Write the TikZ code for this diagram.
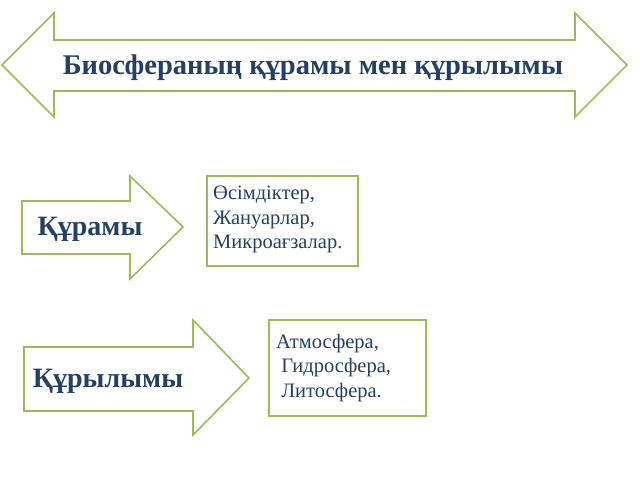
\documentclass[tikz,border=0pt]{standalone}
\usepackage{fontspec}
\setmainfont{Liberation Serif}
\definecolor{arrowgreen}{RGB}{155,187,89}
\definecolor{textblue}{RGB}{36,64,98}
\tikzset{
  arrowshape/.style={draw=arrowgreen, line width=1.6pt, fill=white, line join=miter},
  listbox/.style={draw=arrowgreen, line width=1.2pt, fill=white},
  titletext/.style={text=textblue, font=\bfseries\fontsize{28.5}{34}\selectfont},
  labeltext/.style={text=textblue, font=\bfseries\fontsize{28}{34}\selectfont},
  listtext/.style={text=textblue, font=\fontsize{20.5}{24.5}\selectfont, align=left, anchor=north west, inner sep=0pt}
}
\begin{document}
\begin{tikzpicture}[x=1pt, y=-1pt]
  \useasboundingbox (0,0) rectangle (640,480);

  % double arrow at the top
  \path[arrowshape] (2,65) -- (54,13) -- (54,40) -- (575,40) -- (575,13) -- (627,65)
    -- (575,117) -- (575,91) -- (54,91) -- (54,117) -- cycle;
  \node[titletext] (title) at (313,68) {Биосфераның құрамы мен құрылымы};

  % first row
  \path[arrowshape] (22,201) -- (130,201) -- (130,176) -- (183,227) -- (130,279)
    -- (130,254) -- (22,254) -- cycle;
  \node[labeltext] (quramy) at (90,229) {Құрамы};
  \path[listbox] (207,176) rectangle (358,266);
  \node[listtext] (plants) at (213,186) {Өсімдіктер,\\Жануарлар,\\Микроағзалар.};

  % second row
  \path[arrowshape] (24,347) -- (193,347) -- (193,320) -- (249,378) -- (193,435)
    -- (193,411) -- (24,411) -- cycle;
  \node[labeltext] (qurylymy) at (108,381) {Құрылымы};
  \path[listbox] (269,320) rectangle (426,416);
  \node[listtext] (spheres) at (276,334) {Атмосфера,\\ \ Гидросфера,\\ \ Литосфера.};
\end{tikzpicture}
\end{document}
